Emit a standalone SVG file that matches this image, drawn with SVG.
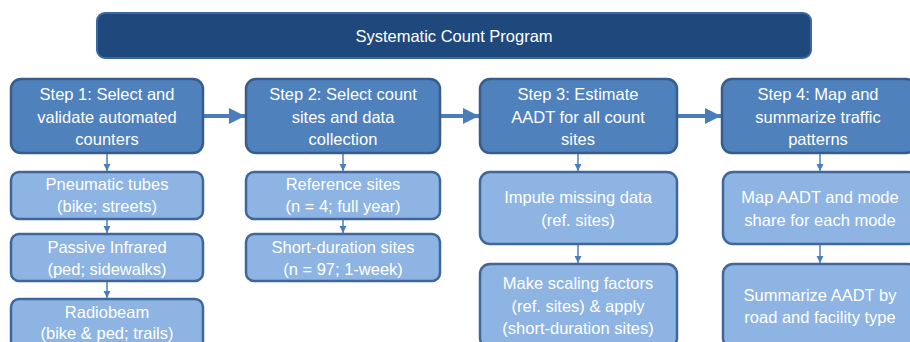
<svg xmlns="http://www.w3.org/2000/svg" width="910" height="342" viewBox="0 0 910 342">
<defs>
<style>
.title{fill:#1F497D;stroke:#3A68A3;stroke-width:2}
.step{fill:#4F81BD;stroke:#385D8A;stroke-width:2.5}
.sub{fill:#8DB4E2;stroke:#41679A;stroke-width:2.5}
text{font-family:"Liberation Sans",Arial,sans-serif;font-size:16.5px;fill:#FFFFFF;text-anchor:middle}
.big{stroke:#4A7EBB;stroke-width:4;fill:none}
.thin{stroke:#4A7EBB;stroke-width:1.5;fill:none}
</style>
<marker id="ah" markerWidth="4" markerHeight="4" refX="4" refY="2" orient="auto" markerUnits="strokeWidth" viewBox="0 0 4 4"><path d="M0,0 L4,2 L0,4 z" fill="#4A7EBB"/></marker>
<marker id="as" markerWidth="5" markerHeight="5" refX="5" refY="2.5" orient="auto" markerUnits="strokeWidth" viewBox="0 0 5 5"><path d="M0,0 L5,2.5 L0,5 z" fill="#4A7EBB"/></marker>
</defs>
<rect width="910" height="342" fill="#FFFFFF"/>
<g id="connectors">
<line class="big" x1="204" y1="116" x2="245" y2="116" marker-end="url(#ah)"/>
<line class="big" x1="441" y1="116" x2="479" y2="116" marker-end="url(#ah)"/>
<line class="big" x1="678" y1="116" x2="721" y2="116" marker-end="url(#ah)"/>
<line class="thin" x1="107" y1="154" x2="107" y2="171" marker-end="url(#as)"/>
<line class="thin" x1="107" y1="220" x2="107" y2="233" marker-end="url(#as)"/>
<line class="thin" x1="107" y1="282" x2="107" y2="298" marker-end="url(#as)"/>
<line class="thin" x1="343" y1="154" x2="343" y2="171" marker-end="url(#as)"/>
<line class="thin" x1="343" y1="220" x2="343" y2="233" marker-end="url(#as)"/>
<line class="thin" x1="578" y1="154" x2="578" y2="171" marker-end="url(#as)"/>
<line class="thin" x1="578" y1="245" x2="578" y2="263" marker-end="url(#as)"/>
<line class="thin" x1="820" y1="154" x2="820" y2="171" marker-end="url(#as)"/>
<line class="thin" x1="820" y1="245" x2="820" y2="263" marker-end="url(#as)"/>
</g>
<g id="title">
<rect class="title" x="97" y="13" width="714" height="45" rx="8"/>
<text x="454" y="42" font-size="16.7">Systematic Count Program</text>
</g>
<g id="step1">
<rect class="step" x="11" y="79" width="192" height="74" rx="10"/>
<text x="107" y="100">Step 1: Select and</text>
<text x="107" y="123">validate automated</text>
<text x="107" y="145">counters</text>
</g>
<g id="step2">
<rect class="step" x="246" y="79" width="194" height="74" rx="10"/>
<text x="343" y="100">Step 2: Select count</text>
<text x="343" y="123">sites and data</text>
<text x="343" y="145">collection</text>
</g>
<g id="step3">
<rect class="step" x="480" y="79" width="197" height="74" rx="10"/>
<text x="578" y="100">Step 3: Estimate</text>
<text x="578" y="123">AADT for all count</text>
<text x="578" y="145">sites</text>
</g>
<g id="step4">
<rect class="step" x="722" y="79" width="194" height="74" rx="10"/>
<text x="818" y="100">Step 4: Map and</text>
<text x="818" y="123">summarize traffic</text>
<text x="818" y="145">patterns</text>
</g>
<g id="pneumatic">
<rect class="sub" x="11" y="172" width="192" height="47" rx="8"/>
<text x="107" y="190">Pneumatic tubes</text>
<text x="107" y="212">(bike; streets)</text>
</g>
<g id="infrared">
<rect class="sub" x="11" y="234" width="192" height="47" rx="8"/>
<text x="107" y="253">Passive Infrared</text>
<text x="107" y="275">(ped; sidewalks)</text>
</g>
<g id="radiobeam">
<rect class="sub" x="11" y="299" width="192" height="52" rx="8"/>
<text x="107" y="318">Radiobeam</text>
<text x="107" y="339">(bike &amp; ped; trails)</text>
</g>
<g id="reference">
<rect class="sub" x="246" y="172" width="194" height="47" rx="8"/>
<text x="343" y="190">Reference sites</text>
<text x="343" y="212">(n = 4; full year)</text>
</g>
<g id="shortduration">
<rect class="sub" x="246" y="234" width="194" height="47" rx="8"/>
<text x="343" y="253">Short-duration sites</text>
<text x="343" y="275">(n = 97; 1-week)</text>
</g>
<g id="impute">
<rect class="sub" x="480" y="172" width="197" height="72" rx="10"/>
<text x="578" y="203">Impute missing data</text>
<text x="578" y="226">(ref. sites)</text>
</g>
<g id="scaling">
<rect class="sub" x="480" y="264" width="197" height="84" rx="10"/>
<text x="578" y="289">Make scaling factors</text>
<text x="578" y="312">(ref. sites) &amp; apply</text>
<text x="578" y="334">(short-duration sites)</text>
</g>
<g id="mapaadt">
<rect class="sub" x="723" y="172" width="195" height="72" rx="10"/>
<text x="820" y="203">Map AADT and mode</text>
<text x="820" y="226">share for each mode</text>
</g>
<g id="summarize">
<rect class="sub" x="723" y="264" width="195" height="84" rx="10"/>
<text x="820" y="301">Summarize AADT by</text>
<text x="820" y="323">road and facility type</text>
</g>
</svg>
